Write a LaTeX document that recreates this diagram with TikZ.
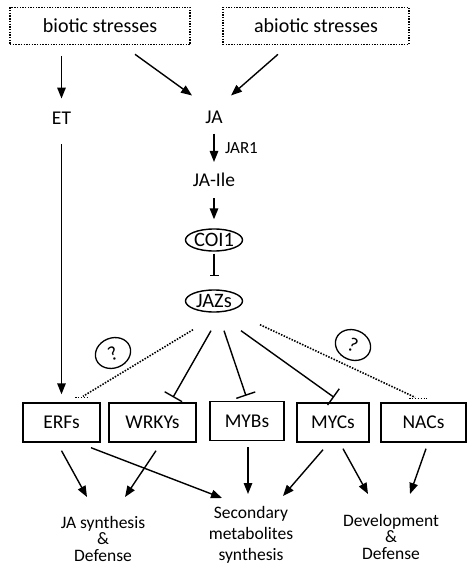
\documentclass[tikz,border=0pt]{standalone}
\usepackage{fontspec}
\setmainfont{Carlito}
\usetikzlibrary{arrows.meta,shapes.geometric}
\begin{document}
\begin{tikzpicture}[x=1pt,y=-1pt,
  act/.style={-{Triangle[length=11pt,width=8.5pt]},line width=1.4pt},
  inhib/.style={-{Bar[width=20pt]},line width=1.4pt},
  unknown/.style={line width=1.6pt,dash pattern=on 1.5pt off 1.4pt},
  stressbox/.style={draw,line width=1.6pt,dash pattern=on 1.4pt off 1.3pt,minimum width=180pt,minimum height=37pt,font=\fontsize{20}{24}\selectfont},
  lbl/.style={inner sep=0pt,font=\fontsize{19.5}{23}\selectfont},
  sig/.style={ellipse,draw,line width=1.4pt,minimum width=57pt,minimum height=22pt,inner sep=0pt,font=\fontsize{20.5}{24}\selectfont},
  tfbox/.style={draw,line width=1.4pt,minimum height=39pt,inner sep=0pt,font=\fontsize{19.5}{23}\selectfont},
  outcome/.style={anchor=north,align=center,inner sep=0pt,font=\fontsize{17.5}{16.5}\selectfont},
  qmark/.style={ellipse,draw,line width=1.3pt,minimum width=36pt,minimum height=30pt,inner sep=0pt,font=\fontsize{20}{22}\selectfont}]
\useasboundingbox (0,0) rectangle (474,572);

\node[stressbox] (biotic) at (100,26) {biotic stresses};
\node[stressbox,minimum width=186pt] (abiotic) at (316,26) {abiotic stresses};

\node[lbl] (et) at (61.5,118) {ET};
\node[lbl] (ja) at (214,117) {JA};
\node[lbl] (jaile) at (214,180) {JA-Ile};
\node[sig] (coi) at (214,240) {COI1};
\node[sig] (jazs) at (214,301) {JAZs};

\node[qmark,rotate=22] (q1) at (113,353) {?};
\node[qmark,rotate=-22] (q2) at (353,345) {?};

\node[tfbox,minimum width=77pt] (erfs) at (61.5,422.5) {ERFs};
\node[tfbox,minimum width=87pt] (wrkys) at (152.5,422.5) {WRKYs};
\node[tfbox,minimum width=74pt] (mybs) at (247,421) {MYBs};
\node[tfbox,minimum width=72pt] (mycs) at (333,422.5) {MYCs};
\node[tfbox,minimum width=85pt] (nacs) at (423.5,422.5) {NACs};

\node[outcome] (jasyn) at (103,516) {JA synthesis\\\&\\Defense};
\node[outcome,font=\fontsize{17.5}{21}\selectfont] (secmet) at (251,506) {Secondary\\metabolites\\synthesis};
\node[outcome] (devdef) at (391,514) {Development\\\&\\Defense};

% stresses
\draw[act,shorten <=10.5pt,shorten >=13pt] (biotic.south -| et.north) -- (et.north);
\draw[act] ([shift={(35,9)}]biotic.south) -- ([shift={(-22,-15)}]ja.north);
\draw[act] ([shift={(-38,9)}]abiotic.south) -- ([shift={(17,-15)}]ja.north);

% JA signalling
\draw[act,shorten <=10pt,shorten >=11pt] (ja.south) -- (jaile.north)
  node[midway,right=7pt,font=\fontsize{17}{20}\selectfont] (jar1) {JAR1};
\draw[act,shorten <=11pt,shorten >=9pt] (jaile.south) -- (coi.north);
\draw[-{Bar[width=9pt]},line width=1.4pt,shorten <=2pt,shorten >=13pt] (coi.south) -- (jazs.north);
\draw[act,shorten <=20pt,shorten >=8pt] (et.south) -- (erfs.north);

% JAZs targets
\draw[unknown] ([shift={(-21,17)}]jazs.south) -- ([shift={(21.5,-6)}]erfs.north);
\draw[unknown] ([shift={(13.5,-5)}]erfs.north) -- ([shift={(27.5,-5)}]erfs.north);
\draw[inhib] ([shift={(-3,18)}]jazs.south) -- ([shift={(20.5,-5)}]wrkys.north);
\draw[inhib] ([shift={(10,18)}]jazs.south) -- ([shift={(-1,-5)}]mybs.north);
\draw[inhib] ([shift={(27,18)}]jazs.south) -- ([shift={(1,-5)}]mycs.north);
\draw[unknown] ([shift={(46,12)}]jazs.south) -- ([shift={(-8.5,-5)}]nacs.north);
\draw[unknown] ([shift={(-14.5,-4)}]nacs.north) -- ([shift={(3.5,-4)}]nacs.north);

% outputs
\draw[act] ([shift={(0,8)}]erfs.south) -- ([shift={(-16,-19)}]jasyn.north);
\draw[act] ([shift={(29.5,5)}]erfs.south) -- ([shift={(-29,-8)}]secmet.north);
\draw[act] ([shift={(3.5,8)}]wrkys.south) -- ([shift={(22,-19)}]jasyn.north);
\draw[act] ([shift={(1,6)}]mybs.south) -- ([shift={(-3,-12)}]secmet.north);
\draw[act] ([shift={(-10,7)}]mycs.south) -- ([shift={(32,-10)}]secmet.north);
\draw[act] ([shift={(10,6)}]mycs.south) -- ([shift={(-23,-20)}]devdef.north);
\draw[act] ([shift={(2.5,6)}]nacs.south) -- ([shift={(19,-20)}]devdef.north);
\end{tikzpicture}
\end{document}
